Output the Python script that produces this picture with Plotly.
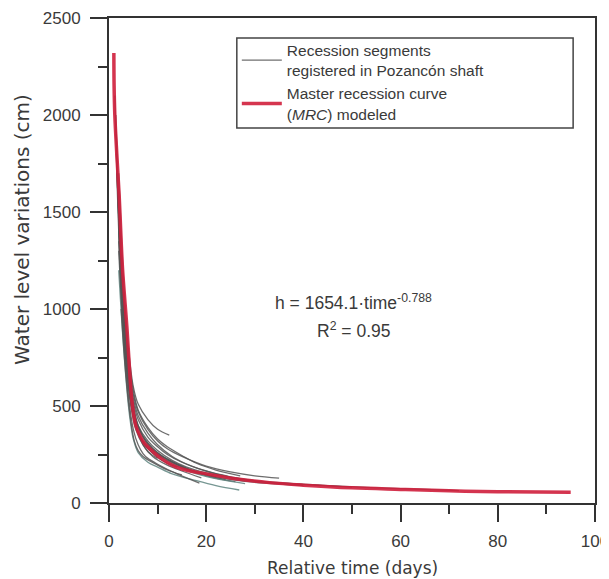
import plotly.graph_objects as go

# ---------------- data ----------------
mrc_t = [1.0, 1.05, 1.2, 1.6, 2.1, 2.5, 2.8, 3.3, 3.7, 4.2, 4.7, 5.5, 6.5, 7.2, 9.0,
         10.7, 13.0, 15.0, 20.0, 26.0, 33.0, 40.0, 50.0, 60.0, 70.0, 80.0, 95.0]
mrc_h = [2320, 2150, 2000, 1800, 1580, 1350, 1200, 1030, 900, 700, 530, 400, 340, 310, 265,
         230, 195, 175, 150, 125, 105, 92, 78, 70, 63, 58, 55]

seg01_t = [2, 3, 4, 5, 6, 8, 10, 12.4]
seg01_h = [1700, 1150, 800, 600, 510, 430, 380, 350]
seg02_t = [1.5, 2, 3, 4, 5, 6, 8, 10, 12, 15, 20, 25, 30, 35]
seg02_h = [1900, 1500, 1000, 720, 560, 470, 380, 320, 280, 240, 190, 160, 140, 128]
seg03_t = [2, 3, 4, 5, 6, 8, 10, 12, 15, 20, 25, 30]
seg03_h = [1400, 950, 680, 520, 430, 340, 290, 250, 210, 165, 135, 115]
seg04_t = [1.2, 2, 3, 4, 5, 6, 8, 10, 14, 18, 22]
seg04_h = [2100, 1450, 900, 620, 470, 390, 310, 260, 200, 160, 135]
seg05_t = [2, 3, 4, 4.5, 5, 6, 8, 10, 13, 18, 22, 26.8]
seg05_h = [1200, 800, 500, 400, 330, 260, 210, 185, 150, 115, 90, 67]
seg06_t = [2, 3, 4, 5, 6, 7, 8, 10, 14, 18.6]
seg06_h = [1300, 850, 550, 380, 300, 255, 230, 200, 150, 103]
seg07_t = [1.5, 2.5, 3.5, 4.5, 5.5, 7, 9, 12, 16, 20, 26]
seg07_h = [1800, 1200, 800, 520, 400, 320, 270, 225, 175, 140, 110]
seg08_t = [1.8, 3, 4, 5, 6, 8, 10, 13, 17, 22, 28, 35, 45, 55, 65, 72]
seg08_h = [1600, 980, 700, 540, 450, 360, 300, 240, 190, 150, 120, 105, 90, 78, 70, 64]
seg09_t = [2, 3, 4, 5, 6, 8, 10, 12, 15, 20, 24]
seg09_h = [1500, 1000, 700, 500, 400, 300, 250, 220, 185, 145, 120]
seg10_t = [2.2, 3, 4, 5, 6, 7, 9, 11, 14, 18, 23, 28]
seg10_h = [1250, 900, 640, 470, 370, 310, 260, 230, 190, 150, 120, 100]
seg11_t = [1.6, 2.5, 3.5, 4.5, 5.5, 7, 9, 12, 15, 19]
seg11_h = [1700, 1100, 720, 500, 380, 300, 240, 195, 165, 130]
seg12_t = [3, 4, 5, 6, 8, 10, 12, 15, 18, 22, 27]
seg12_h = [1050, 760, 580, 480, 390, 330, 290, 245, 205, 170, 140]
seg13_t = [2, 3, 4, 5, 6, 8, 10, 12, 14]
seg13_h = [1350, 880, 600, 450, 360, 280, 235, 205, 185]
seg14_t = [2.5, 3.5, 4.5, 5.5, 7, 9, 11, 14, 17, 21, 26, 32, 40]
seg14_h = [1150, 780, 560, 430, 340, 280, 240, 200, 170, 140, 118, 102, 90]
seg15_t = [1.4, 2, 3, 4, 5, 6, 7, 8, 10]
seg15_h = [2000, 1550, 1050, 700, 480, 360, 300, 265, 230]
seg16_t = [2, 3, 4, 5, 6, 8, 10, 13, 16, 20, 25, 30, 36, 42, 50]
seg16_h = [1450, 930, 650, 490, 400, 320, 270, 220, 185, 155, 128, 112, 100, 92, 82]
seg17_t = [2.5, 3.5, 4.5, 5.2, 6, 7, 8.5, 10, 12, 15]
seg17_h = [1000, 650, 420, 320, 270, 240, 215, 195, 170, 145]

segments = [(seg01_t, seg01_h), (seg02_t, seg02_h), (seg03_t, seg03_h), (seg04_t, seg04_h),
            (seg05_t, seg05_h), (seg06_t, seg06_h), (seg07_t, seg07_h), (seg08_t, seg08_h),
            (seg09_t, seg09_h), (seg10_t, seg10_h), (seg11_t, seg11_h), (seg12_t, seg12_h),
            (seg13_t, seg13_h), (seg14_t, seg14_h), (seg15_t, seg15_h), (seg16_t, seg16_h),
            (seg17_t, seg17_h)]
teal_segments = {4, 9}

x_ticks = [0, 20, 40, 60, 80, 100]
y_ticks = [0, 500, 1000, 1500, 2000, 2500]

legend_gray = "Recession segments<br>registered in Pozancón shaft"
legend_red = "Master recession curve<br>(<i>MRC</i>) modeled"
eq_text = "h = 1654.1·time<sup>-0.788</sup>"
r2_text = "R<sup>2</sup> = 0.95"
x_title = "Relative time (days)"
y_title = "Water level variations (cm)"

# ---------------- figure ----------------
FONT = "Liberation Sans, Arial, sans-serif"
WIDE = "DejaVu Sans, Liberation Sans, sans-serif"
TXT = "#3a3a3a"
fig = go.Figure()

for i, (t, h) in enumerate(segments):
    col = "#5f8580" if i in teal_segments else "#555555"
    fig.add_trace(go.Scatter(
        x=t, y=h, mode="lines", line=dict(color=col, width=1.3, shape="spline"),
        opacity=0.85, name=legend_gray, legendgroup="seg",
        showlegend=(i == 0), hoverinfo="skip"))

fig.add_trace(go.Scatter(
    x=mrc_t, y=mrc_h, mode="lines", line=dict(color="#d01f3c", width=3.5, shape="spline"),
    opacity=0.9, name=legend_red))

axis_common = dict(
    showline=True, linecolor="#333333", linewidth=2, mirror=True,
    ticks="outside", tickcolor="#333333", tickwidth=2, ticklen=17,
    showgrid=False, zeroline=False, automargin=False, ticklabeloverflow="allow",
    tickfont=dict(family=FONT, size=17, color=TXT),
)

fig.update_xaxes(range=[0, 100], tickvals=x_ticks, ticklabelstandoff=5,
                 minor=dict(dtick=10, ticks="outside", ticklen=9, tickwidth=2,
                            tickcolor="#333333", showgrid=False),
                 **axis_common)
fig.update_yaxes(range=[0, 2500], tickvals=y_ticks, ticklabelstandoff=6,
                 minor=dict(dtick=250, ticks="outside", ticklen=9, tickwidth=2,
                            tickcolor="#333333", showgrid=False),
                 **axis_common)

fig.add_annotation(text=x_title, xref="paper", yref="paper", x=0.5, y=-0.134,
                   showarrow=False, xanchor="center", yanchor="middle",
                   font=dict(family=WIDE, size=17, color=TXT))
fig.add_annotation(text=y_title, xref="paper", yref="paper", x=-0.179, y=0.563,
                   showarrow=False, xanchor="center", yanchor="middle", textangle=-90,
                   font=dict(family=WIDE, size=20, color=TXT))
fig.add_annotation(text=eq_text, xref="paper", yref="paper", x=0.504, y=0.414,
                   showarrow=False, xanchor="center", yanchor="middle",
                   font=dict(family=FONT, size=17.5, color=TXT))
fig.add_annotation(text=r2_text, xref="paper", yref="paper", x=0.504, y=0.357,
                   showarrow=False, xanchor="center", yanchor="middle",
                   font=dict(family=FONT, size=17.5, color=TXT))

# legend frame (wider than its text, as in the reference)
fig.add_shape(type="rect", xref="paper", yref="paper",
              x0=0.263, x1=0.955, y0=0.773, y1=0.959,
              line=dict(color="#444444", width=1.5), fillcolor="white", layer="above")

# the page body adds an 8 px offset; size/margins compensate so the plot box sits
# at x 109..595 and y 18..503 in the window
fig.update_layout(
    width=601, height=571,
    margin=dict(l=101, r=14, t=10, b=76, autoexpand=False),
    paper_bgcolor="white", plot_bgcolor="white",
    showlegend=True,
    legend=dict(x=0.263, y=0.968, xanchor="left", yanchor="top",
                bgcolor="rgba(0,0,0,0)", borderwidth=0,
                font=dict(family=FONT, size=15.5, color=TXT),
                itemwidth=40, tracegroupgap=0),
)

fig.write_html("out.html")
